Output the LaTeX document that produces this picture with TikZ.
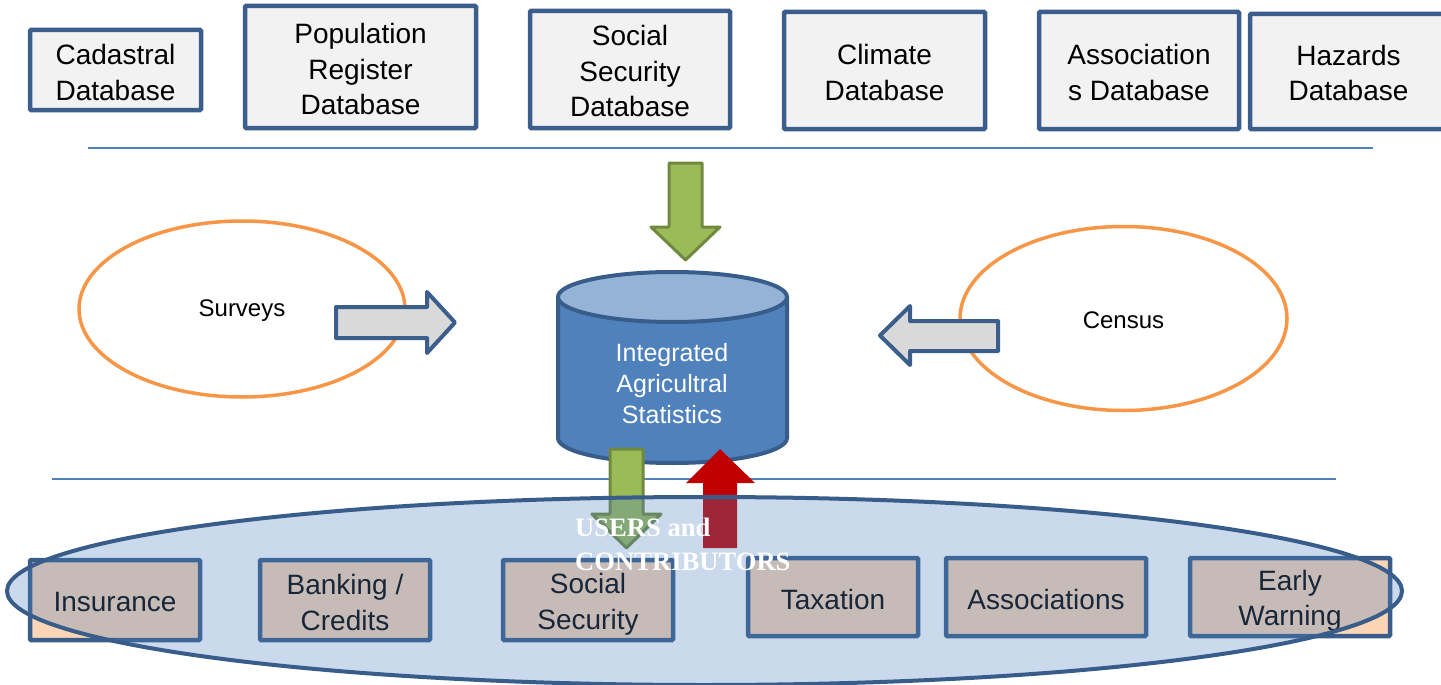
\documentclass[tikz,border=0pt]{standalone}
\usepackage{fontspec}
\setmainfont{Liberation Sans}
\newfontfamily\serifbold{Liberation Serif}
\usetikzlibrary{shapes.geometric}
\definecolor{boxborder}{HTML}{3B5E8C}
\definecolor{boxfill}{HTML}{F2F2F2}
\definecolor{peach}{HTML}{FBD5B5}
\definecolor{rulecol}{HTML}{4F81BD}
\definecolor{cylbody}{HTML}{4F81BD}
\definecolor{cyltop}{HTML}{95B3D7}
\definecolor{cylborder}{HTML}{385D8A}
\definecolor{orangeline}{HTML}{F79646}
\definecolor{greenfill}{HTML}{9BBB59}
\definecolor{greenline}{HTML}{71893F}
\definecolor{greyfill}{HTML}{D9D9D9}
\definecolor{redfill}{HTML}{C00000}
\tikzset{
  topbox/.style={draw=boxborder, fill=boxfill, line width=4.5pt, rounded corners=1pt, inner sep=0pt},
  botbox/.style={draw=cylborder, fill=peach, line width=4.5pt, rounded corners=1pt, inner sep=0pt},
  boxtext/.style={align=center, inner sep=0pt, font=\fontsize{28}{35.5}\selectfont},
  ruleline/.style={draw=rulecol, line width=1.6pt},
  oval/.style={draw=orangeline, fill=white, line width=3.5pt},
  greenarrow/.style={fill=greenfill, draw=greenline, line width=3pt, line join=round},
  greyarrow/.style={fill=greyfill, draw=boxborder, line width=4pt, line join=round},
  redarrow/.style={fill=redfill},
  label/.style={font=\fontsize{24}{30}\selectfont},
}
\begin{document}
\begin{tikzpicture}[x=1pt, y=-1pt]
\useasboundingbox (0,0) rectangle (1441,685);

% top databases
\node[topbox, minimum width=171, minimum height=80] (cad) at (115.5,70) {};
\node[boxtext] (cadt) at ([yshift=-2.5pt]cad.center) {Cadastral\\Database};
\node[topbox, minimum width=231, minimum height=122] (pop) at (360.5,67) {};
\node[boxtext] (popt) at ([yshift=-2pt]pop.center) {Population\\Register\\Database};
\node[topbox, minimum width=200, minimum height=117] (soc) at (630,69.5) {};
\node[boxtext] (soct) at ([yshift=-1.5pt]soc.center) {Social\\Security\\Database};
\node[topbox, minimum width=201, minimum height=117] (cli) at (884.5,70.5) {};
\node[boxtext] (clit) at ([yshift=-2pt]cli.center) {Climate\\Database};
\node[topbox, minimum width=200, minimum height=117] (ass) at (1139,70.5) {};
\node[boxtext] (asst) at ([yshift=-2pt]ass.center) {Association\\s Database};
\node[topbox, minimum width=197, minimum height=115] (haz) at (1348.5,71.5) {};
\node[boxtext] (hazt) at ([yshift=-1.5pt]haz.center) {Hazards\\Database};

% separator lines
\draw[ruleline] (88,148) -- (1373,148);
\draw[ruleline] (52,479) -- (1336,479);

% ovals
\node[oval, ellipse, minimum width=326, minimum height=176, inner sep=0pt] (surv) at (242,309) {};
\node[label] (survt) at (242,311) {Surveys};
\node[oval, ellipse, minimum width=327, minimum height=184, inner sep=0pt] (cens) at (1123.5,318.5) {};
\node[label] (censt) at (1123.5,320) {Census};

% block arrows into the store
\draw[greenarrow] (669,163) -- (702,163) -- (702,227) -- (720,227) -- (685.5,260) -- (651,227) -- (669,227) -- cycle;
\draw[greyarrow] (336,307) -- (427,307) -- (427,292) -- (455,322.5) -- (427,353) -- (427,338) -- (336,338) -- cycle;
\draw[greyarrow] (998,321) -- (910,321) -- (910,306) -- (880,335.5) -- (910,365) -- (910,351) -- (998,351) -- cycle;

% cylinder
\fill[cylbody] (558,297) -- (558,438) arc[start angle=180, end angle=0, x radius=114.5, y radius=25] -- (787,297) -- cycle;
\draw[cylborder, line width=4pt] (558,297) -- (558,438) arc[start angle=180, end angle=0, x radius=114.5, y radius=25] -- (787,297);
\draw[cylborder, fill=cyltop, line width=4pt] (672.5,297) ellipse [x radius=114.5, y radius=25];
\node[text=white, align=center, font=\fontsize{25}{31}\selectfont] (cyl) at (672,384) {Integrated\\Agricultral\\Statistics};

% arrows to/from users
\draw[greenarrow] (610,449) -- (643,449) -- (643,514) -- (661,514) -- (626.5,548) -- (592,514) -- (610,514) -- cycle;
\fill[redarrow] (720,449) -- (755,483) -- (737,483) -- (737,548) -- (703,548) -- (703,483) -- (686,483) -- cycle;

% bottom boxes
\node[botbox, minimum width=170, minimum height=80] (ins) at (115,600) {};
\node[boxtext] (inst) at ([yshift=-2pt]ins.center) {Insurance};
\node[botbox, minimum width=170, minimum height=80] (ban) at (345,600) {};
\node[boxtext] (bant) at ([yshift=-2.5pt]ban.center) {Banking /\\Credits};
\node[botbox, minimum width=170, minimum height=80] (ssec) at (588,600) {};
\node[boxtext] (ssect) at ([yshift=-4.5pt]ssec.center) {Social\\Security};
\node[botbox, minimum width=170, minimum height=78] (tax) at (833,597) {};
\node[boxtext] (taxt) at ([yshift=-2pt]tax.center) {Taxation};
\node[botbox, minimum width=200, minimum height=78] (asc) at (1046,597) {};
\node[boxtext] (asct) at ([yshift=-2pt]asc.center) {Associations};
\node[botbox, minimum width=200, minimum height=78] (ear) at (1290,597) {};
\node[boxtext] (eart) at ([yshift=-4pt]ear.center) {Early\\Warning};

% users ellipse overlay
\draw[draw=cylborder, line width=4pt, fill=rulecol, fill opacity=0.3] (704.5,591) ellipse [x radius=697.5, y radius=94];

\node[anchor=west, align=left, text=white, font=\serifbold\bfseries\fontsize{26.6}{34}\selectfont, inner sep=0pt] (users) at (575,544) {USERS and\\CONTRIBUTORS};
\end{tikzpicture}
\end{document}
